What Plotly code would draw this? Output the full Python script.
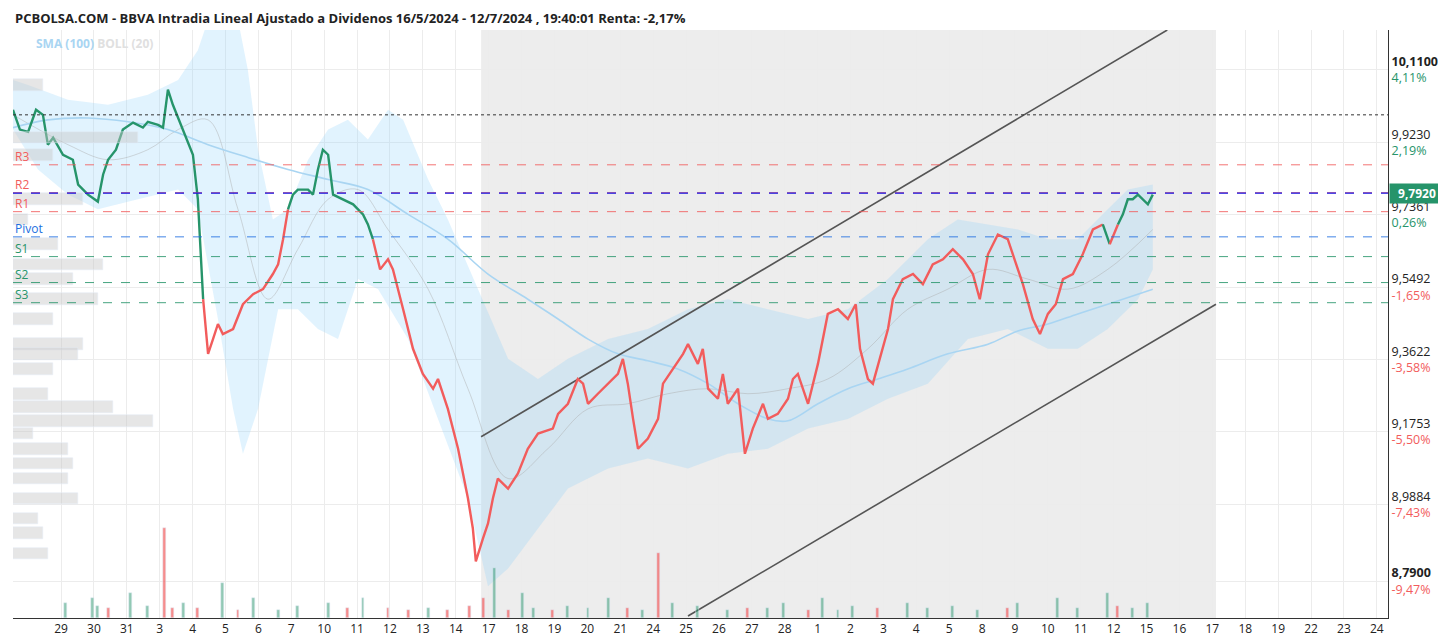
import plotly.graph_objects as go

day_labels = ["29", "30", "31", "3", "4", "5", "6", "7", "10", "11", "12", "13", "14", "17", "18",
              "19", "20", "21", "24", "25", "26", "27", "28", "1", "2", "3", "4", "5", "8", "9",
              "10", "11", "12", "15", "16", "17", "18", "19", "22", "23", "24"]

price_x = [-1.46, -1.25, -1.00, -0.76, -0.55, -0.40, -0.24, 0.06, 0.36, 0.52, 0.82, 1.12, 1.28, 1.43,
           1.67, 1.88, 2.19, 2.49, 2.64, 2.95, 3.10, 3.25, 3.40, 3.71, 4.01, 4.16, 4.32, 4.47, 4.62,
           4.77, 4.92, 5.23, 5.53, 5.84, 6.14, 6.44, 6.60, 6.75, 6.90, 7.05, 7.20, 7.51, 7.66, 7.81,
           7.96, 8.12, 8.27, 8.57, 8.88, 9.03, 9.18, 9.33, 9.48, 9.70, 9.94, 10.09, 10.40, 10.70,
           11.00, 11.31, 11.46, 11.76, 12.07, 12.37, 12.52, 12.61, 12.83, 12.98, 13.13, 13.28,
           13.59, 13.89, 14.19, 14.50, 14.95, 15.11, 15.41, 15.71, 15.87, 16.02, 16.32, 16.63,
           16.93, 17.08, 17.23, 17.39, 17.54, 17.84, 18.15, 18.30, 18.60, 18.91, 19.06, 19.36,
           19.51, 19.67, 19.97, 20.12, 20.27, 20.58, 20.79, 21.03, 21.34, 21.49, 21.79, 22.10,
           22.25, 22.40, 22.71, 23.01, 23.31, 23.62, 23.92, 24.16, 24.29, 24.53, 24.68, 24.89,
           25.14, 25.29, 25.59, 25.90, 26.20, 26.50, 26.81, 27.11, 27.42, 27.72, 27.93, 28.18,
           28.48, 28.78, 29.03, 29.24, 29.54, 29.76, 30.00, 30.24, 30.46, 30.76, 31.06, 31.37,
           31.67, 31.88, 32.13, 32.28, 32.43, 32.58, 32.74, 33.04, 33.19]
price_y = [10.007, 9.956, 9.950, 10.007, 9.994, 9.917, 9.935, 9.891, 9.878, 9.814, 9.788, 9.770,
           9.840, 9.878, 9.904, 9.956, 9.974, 9.961, 9.976, 9.968, 9.961, 10.059, 10.020, 9.956,
           9.891, 9.776, 9.518, 9.377, 9.415, 9.454, 9.428, 9.441, 9.505, 9.531, 9.544, 9.583,
           9.608, 9.673, 9.750, 9.788, 9.801, 9.801, 9.788, 9.853, 9.904, 9.891, 9.788, 9.776,
           9.763, 9.750, 9.737, 9.711, 9.673, 9.595, 9.621, 9.595, 9.492, 9.390, 9.325, 9.287,
           9.312, 9.235, 9.132, 9.004, 8.926, 8.841, 8.901, 8.939, 9.004, 9.055, 9.029, 9.068,
           9.132, 9.171, 9.184, 9.222, 9.248, 9.312, 9.300, 9.248, 9.274, 9.300, 9.325, 9.364,
           9.300, 9.209, 9.132, 9.158, 9.209, 9.300, 9.338, 9.377, 9.402, 9.351, 9.390, 9.287,
           9.261, 9.325, 9.248, 9.287, 9.119, 9.184, 9.248, 9.209, 9.222, 9.261, 9.312, 9.325,
           9.248, 9.351, 9.480, 9.492, 9.467, 9.505, 9.390, 9.312, 9.300, 9.364, 9.441, 9.518,
           9.570, 9.583, 9.557, 9.608, 9.621, 9.647, 9.621, 9.583, 9.518, 9.634, 9.685, 9.673,
           9.608, 9.557, 9.467, 9.428, 9.480, 9.505, 9.570, 9.583, 9.634, 9.698, 9.711, 9.660,
           9.711, 9.737, 9.776, 9.776, 9.788, 9.763, 9.788]

sma_x = [-1.46, -0.40, 0.82, 2.04, 3.25, 4.47, 5.68, 6.90, 8.12, 9.33, 10.55, 11.76, 12.98, 14.19,
         15.11, 16.02, 16.93, 17.84, 18.75, 19.67, 20.58, 21.49, 22.10, 23.01, 23.92, 24.83,
         25.74, 26.96, 28.18, 29.09, 30.00, 30.91, 31.82, 33.19]
sma_y = [9.961, 9.981, 9.986, 9.976, 9.956, 9.917, 9.884, 9.853, 9.827, 9.801, 9.737, 9.673,
         9.583, 9.518, 9.467, 9.415, 9.377, 9.359, 9.338, 9.300, 9.248, 9.209, 9.204, 9.248,
         9.287, 9.312, 9.338, 9.377, 9.402, 9.436, 9.454, 9.480, 9.505, 9.544]

boll_up_x = [-1.46, -1.00, 0.21, 1.43, 2.64, 3.56, 4.16, 4.47, 5.38, 5.68, 5.99, 6.44, 6.90, 7.51,
             8.12, 8.72, 9.33, 9.94, 10.40, 11.16, 11.76, 12.67, 13.59, 14.50, 15.41, 16.63,
             17.84, 19.06, 20.27, 21.49, 22.71, 23.92, 25.14, 26.35, 27.26, 28.18, 29.09, 30.00,
             30.91, 31.82, 32.43, 33.19]
boll_up_y = [10.084, 10.071, 10.033, 10.020, 10.046, 10.084, 10.161, 10.239, 10.239, 10.110, 9.904,
             9.724, 9.750, 9.878, 9.956, 9.981, 9.930, 10.007, 9.981, 9.827, 9.724, 9.544, 9.364,
             9.312, 9.364, 9.415, 9.441, 9.492, 9.518, 9.492, 9.467, 9.492, 9.570, 9.673, 9.724,
             9.711, 9.698, 9.673, 9.673, 9.750, 9.801, 9.814]
boll_lo_x = [-1.46, -0.70, 0.21, 1.12, 2.34, 3.56, 4.16, 4.77, 5.23, 5.53, 5.99, 6.60, 7.20, 7.81,
             8.42, 9.03, 9.64, 10.55, 11.46, 12.37, 12.98, 13.59, 14.50, 15.41, 16.63, 17.84,
             19.06, 20.27, 21.49, 22.71, 23.92, 25.14, 26.35, 27.57, 28.78, 30.00, 30.91, 31.82,
             32.74, 33.19]
boll_lo_y = [9.956, 9.853, 9.788, 9.750, 9.776, 9.801, 9.750, 9.467, 9.235, 9.119, 9.235, 9.492,
             9.492, 9.441, 9.415, 9.570, 9.544, 9.415, 9.209, 9.004, 8.777, 8.823, 8.926, 9.029,
             9.081, 9.107, 9.081, 9.119, 9.132, 9.184, 9.209, 9.261, 9.300, 9.415, 9.441, 9.390,
             9.390, 9.441, 9.518, 9.595]
boll_mid_x = [-1.46, 0.21, 1.43, 2.64, 3.56, 4.47, 5.38, 6.29, 7.20, 8.12, 9.03, 9.94, 11.16, 12.37,
              13.59, 14.80, 16.02, 17.23, 18.45, 19.67, 20.88, 22.10, 23.31, 24.53, 25.74, 26.96,
              28.18, 29.39, 30.61, 31.82, 33.19]
boll_mid_y = [9.994, 9.917, 9.878, 9.904, 9.956, 9.981, 9.750, 9.518, 9.647, 9.776, 9.801, 9.698,
              9.544, 9.287, 9.055, 9.132, 9.235, 9.248, 9.274, 9.287, 9.274, 9.287, 9.312, 9.390,
              9.492, 9.544, 9.595, 9.570, 9.544, 9.595, 9.698]

channel_up_x = [12.77, 33.63]
channel_up_y = [9.163, 10.213]
channel_lo_x = [19.06, 35.11]
channel_lo_y = [8.700, 9.505]
channel_zone = [12.77, 35.11]

levels = {"R3": 9.865, "R2": 9.793, "R1": 9.744, "Pivot": 9.679, "S1": 9.628, "S2": 9.561, "S3": 9.509}
prev_high = 9.994
last_price = 9.792

profile_y = [10.071, 9.935, 9.891, 9.776, 9.724, 9.660, 9.608, 9.570, 9.518, 9.467, 9.402, 9.377,
             9.338, 9.274, 9.240, 9.204, 9.171, 9.132, 9.094, 9.055, 9.004, 8.952, 8.914, 8.862]
profile_w = [30, 125, 40, 70, 15, 45, 90, 60, 85, 40, 70, 65, 40, 35, 100, 140, 20, 55, 60, 55,
             65, 25, 30, 35]

vol_x = [0.15, 0.97, 1.12, 1.43, 2.10, 2.64, 3.16, 3.40, 3.71, 4.16, 4.92, 5.38, 5.84, 6.60, 7.20,
         8.12, 8.72, 9.18, 9.94, 10.55, 11.16, 11.76, 12.43, 12.83, 13.19, 13.59, 14.04, 14.35,
         14.95, 15.41, 16.02, 16.63, 17.23, 17.69, 18.15, 18.60, 19.36, 20.27, 20.88, 21.49,
         21.95, 22.71, 23.16, 23.62, 24.07, 24.83, 25.74, 26.35, 27.11, 27.87, 28.78, 29.09,
         30.30, 30.91, 31.82, 32.13, 32.58, 33.04]
vol_v = [15, 20, 12, 10, 25, 12, 90, 10, 15, 10, 35, 8, 20, 8, 12, 15, 10, 20, 10, 8, 10, 8, 12,
         20, 50, 8, 25, 10, 8, 12, 10, 20, 10, 8, 65, 15, 12, 8, 10, 10, 15, 8, 20, 8, 12, 10, 15,
         10, 12, 8, 10, 15, 20, 10, 25, 12, 10, 15]
vol_up = [1, 1, 1, 0, 1, 1, 0, 0, 1, 0, 1, 0, 1, 1, 1, 1, 0, 1, 0, 0, 1, 0, 0, 0, 1, 0, 1, 1, 0,
          1, 1, 1, 0, 1, 0, 1, 1, 1, 0, 1, 1, 0, 1, 1, 1, 0, 1, 1, 1, 1, 0, 1, 1, 1, 1, 0, 1, 1]

tick_vals = [10.11, 9.923, 9.7361, 9.5492, 9.3622, 9.1753, 8.9884, 8.79]
tick_pct = ["4,11%", "2,19%", "0,26%", "-1,65%", "-3,58%", "-5,50%", "-7,43%", "-9,47%"]

GREEN = "#26946a"
RED = "#f25c5c"
BLUE = "#1e6fe0"
LEVEL_COLORS = {"R": "rgba(242,92,92,0.85)", "P": "rgba(30,111,224,0.85)", "S": "rgba(38,148,106,0.85)"}

fig = go.Figure()

fig.add_vrect(x0=channel_zone[0], x1=channel_zone[1], fillcolor="rgba(215,215,215,0.45)",
              line_width=0, layer="below")

# volume profile on the left
fig.add_trace(go.Bar(x=profile_w, y=profile_y, orientation="h", xaxis="x2",
                     marker_color="rgba(200,200,200,0.45)", width=0.03, hoverinfo="skip"))

# bollinger band
fig.add_trace(go.Scatter(x=boll_up_x + boll_lo_x[::-1], y=boll_up_y + boll_lo_y[::-1],
                         fill="toself", fillcolor="rgba(135,206,250,0.25)", line_width=0,
                         mode="lines", hoverinfo="skip"))
fig.add_trace(go.Scatter(x=boll_mid_x, y=boll_mid_y, mode="lines", line_shape="spline",
                         line=dict(color="rgba(170,170,170,0.45)", width=1)))
fig.add_trace(go.Scatter(x=sma_x, y=sma_y, mode="lines", line_shape="spline",
                         line=dict(color="#a9d5f2", width=1.6)))

# channel
for cx, cy in [(channel_up_x, channel_up_y), (channel_lo_x, channel_lo_y)]:
    fig.add_trace(go.Scatter(x=cx, y=cy, mode="lines", line=dict(color="#555", width=1.6)))

# levels
fig.add_hline(y=prev_high, line_color="#333", line_width=1, line_dash="dot")
for name, val in levels.items():
    col = LEVEL_COLORS[name[0]]
    txt = RED if name[0] == "R" else (BLUE if name[0] == "P" else GREEN)
    fig.add_hline(y=val, line_color=col, line_width=1, line_dash="dash")
    fig.add_annotation(x=0, xref="paper", y=val, yanchor="bottom", xanchor="left", text=name,
                       showarrow=False, font=dict(color=txt, size=12), yshift=-2)
fig.add_hline(y=last_price, line_color="#1414e6", line_width=1.2, line_dash="dash")

# price line coloured by zone
threshold = 9.705
seg_x, seg_y = [price_x[0]], [price_y[0]]
cur = price_y[0] >= threshold
for px, py in zip(price_x[1:], price_y[1:]):
    state = py >= threshold
    seg_x.append(px)
    seg_y.append(py)
    if state != cur:
        fig.add_trace(go.Scatter(x=seg_x, y=seg_y, mode="lines",
                                 line=dict(color=GREEN if cur else RED, width=2.4)))
        seg_x, seg_y = [px], [py]
        cur = state
fig.add_trace(go.Scatter(x=seg_x, y=seg_y, mode="lines",
                         line=dict(color=GREEN if cur else RED, width=2.4)))

# volume
fig.add_trace(go.Bar(x=vol_x, y=vol_v, yaxis="y2", width=0.09,
                     marker_color=["rgba(38,148,106,0.5)" if u else "rgba(242,92,92,0.7)" for u in vol_up]))

tick_text = []
for i, (v, p) in enumerate(zip(tick_vals, tick_pct)):
    num = f"{v:.4f}".replace(".", ",")
    if i in (0, len(tick_vals) - 1):
        num = f"<b>{num}</b>"
    col = GREEN if not p.startswith("-") else RED
    tick_text.append(f"{num}<br><span style='color:{col}'>{p}</span>")

fig.update_layout(
    width=1446, height=638,
    margin=dict(l=5, r=66, t=22, b=28),
    plot_bgcolor="white", paper_bgcolor="white",
    showlegend=False, bargap=0,
    font=dict(family="Open Sans", size=12, color="#222"),
    xaxis=dict(range=[-1.46, 40.34], tickvals=list(range(len(day_labels))), ticktext=day_labels,
               showgrid=True, gridcolor="#ececec", showline=True, linecolor="#333", zeroline=False,
               ticks="", tickfont=dict(size=12)),
    xaxis2=dict(range=[0, 1375], overlaying="x", visible=False),
    yaxis=dict(range=[8.695, 10.213], side="right", tickvals=tick_vals, ticktext=tick_text,
               showgrid=True, gridcolor="#ececec", showline=True, linecolor="#333",
               zeroline=False, tickfont=dict(size=12.5)),
    yaxis2=dict(range=[0, 590], overlaying="y", visible=False),
)

fig.add_annotation(x=0, xref="paper", y=1, yref="paper", yanchor="bottom", xanchor="left", yshift=1,
                   text="<b>PCBOLSA.COM - BBVA Intradia Lineal Ajustado a Dividenos 16/5/2024 - 12/7/2024 , 19:40:01 Renta: -2,17%</b>",
                   showarrow=False, font=dict(size=13, color="#222"))
fig.add_annotation(x=0.015, xref="paper", y=0.995, yref="paper", yanchor="top", xanchor="left",
                   text="<b><span style='color:#a9d5f2'>SMA (100)</span> <span style='color:#e0e0e0'>BOLL (20)</span></b>",
                   showarrow=False, font=dict(size=12))
fig.add_annotation(x=1, xref="paper", y=last_price, xanchor="left", xshift=1, text="<b>9,7920</b>",
                   showarrow=False, bgcolor=GREEN, font=dict(color="white", size=12), width=52,
                   borderpad=1)

fig.write_html("out.html")
